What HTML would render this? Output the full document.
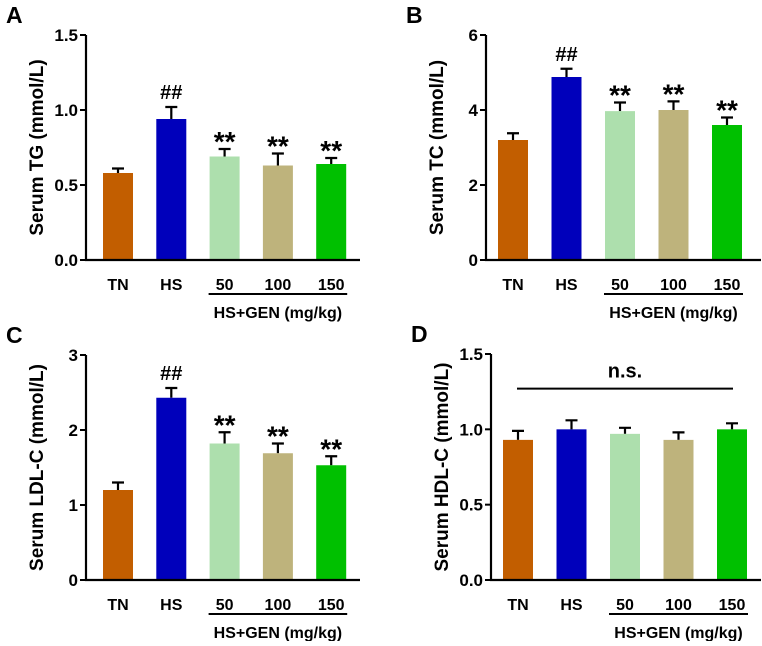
<!DOCTYPE html>
<html><head><meta charset="utf-8"><style>
body{margin:0;background:#fff;width:762px;height:641px;overflow:hidden}
svg text{font-family:"Liberation Sans",Arial,sans-serif;font-weight:bold;fill:#000}
</style></head><body>
<svg id="fig" width="762" height="641" viewBox="0 0 762 641" xmlns="http://www.w3.org/2000/svg"></svg>
<script>
const categories = ["TN","HS","50","100","150"];
const colors = ["#c25e00","#0000bb","#addfad","#beb37c","#00c000"];
const tgValues = [0.58,0.94,0.69,0.63,0.64];
const tgErrors = [0.03,0.08,0.05,0.08,0.04];
const tcValues = [3.2,4.88,3.97,4.0,3.6];
const tcErrors = [0.18,0.22,0.23,0.23,0.2];
const ldlValues = [1.2,2.43,1.82,1.69,1.53];
const ldlErrors = [0.1,0.13,0.15,0.13,0.12];
const hdlValues = [0.93,1.0,0.97,0.93,1.0];
const hdlErrors = [0.06,0.06,0.04,0.05,0.04];
const tgTicks = ["0.0","0.5","1.0","1.5"];
const tcTicks = ["0","2","4","6"];
const ldlTicks = ["0","1","2","3"];
const hdlTicks = ["0.0","0.5","1.0","1.5"];
const marks = ["","##","**","**","**"];

const NS="http://www.w3.org/2000/svg";
const svg=document.getElementById('fig');
function el(tag,attrs,parent){const e=document.createElementNS(NS,tag);for(const k in attrs)e.setAttribute(k,attrs[k]);(parent||svg).appendChild(e);return e;}

const panels=[
 {id:"a",letter:"A",ax:86,x0:118,step:53.3,end:360,top:35,bot:260,max:1.5,ticks:tgTicks,vals:tgValues,errs:tgErrors,title:"Serum TG (mmol/L)",marks:true},
 {id:"b",letter:"B",ax:486,x0:513,step:53.5,end:761,top:35,bot:260,max:6,ticks:tcTicks,vals:tcValues,errs:tcErrors,title:"Serum TC (mmol/L)",marks:true},
 {id:"c",letter:"C",ax:86,x0:118,step:53.3,end:360,top:355,bot:580,max:3,ticks:ldlTicks,vals:ldlValues,errs:ldlErrors,title:"Serum LDL-C (mmol/L)",marks:true},
 {id:"d",letter:"D",ax:491,x0:518,step:53.5,end:761,top:354,bot:580,max:1.5,ticks:hdlTicks,vals:hdlValues,errs:hdlErrors,title:"Serum HDL-C (mmol/L)",marks:false}
];

panels.forEach(p=>{
  const g=el('g',{});
  
  
  const y=v=>p.bot-(v/p.max)*(p.bot-p.top);
  const x=i=>p.x0+i*p.step;
  const L=el('text',{x:p.ax-80,y:p.top-12,'font-size':23},g);L.textContent=p.letter;
  
  p.vals.forEach((v,i)=>{
    const top=y(v+p.errs[i]);
    const eb=el('path',{d:`M${x(i)} ${y(v)}V${top}M${x(i)-6} ${top}H${x(i)+6}`,stroke:'#000','stroke-width':2.2,fill:'none'},g);
    
    const r=el('rect',{x:x(i)-15,y:y(v),width:30,height:p.bot-y(v),fill:colors[i]},g);
    
    if(p.marks&&marks[i]){
      const star=marks[i]=="**";
      const t=el('text',{x:x(i),y:star?top+2:top-8,'font-size':star?28:20,'text-anchor':'middle'},g);
      t.textContent=marks[i];
      
    }
    const c=el('text',{x:x(i),y:p.bot+30,'font-size':16,'text-anchor':'middle'},g);c.textContent=categories[i];
    
  });
  const a=el('path',{d:`M${p.ax} ${p.top}V${p.bot}H${p.end}`,stroke:'#000','stroke-width':2.2,fill:'none'},g);
  
  p.ticks.forEach((t,k)=>{
    const v=k*p.max/(p.ticks.length-1);
    el('line',{x1:p.ax-6,x2:p.ax,y1:y(v),y2:y(v),stroke:'#000','stroke-width':2},g);
    const tt=el('text',{x:p.ax-8,y:y(v)+6,'font-size':17,'text-anchor':'end'},g);tt.textContent=t;
    
  });
  const cy=(p.top+p.bot)/2, tx=p.ax-43;
  const yt=el('text',{x:tx,y:cy,'font-size':19,'text-anchor':'middle',transform:`rotate(-90 ${tx} ${cy})`},g);yt.textContent=p.title;
  
  const ul=el('line',{x1:x(2)-16,x2:x(4)+16,y1:p.bot+34,y2:p.bot+34,stroke:'#000','stroke-width':2},g);
  
  const gl=el('text',{x:(x(2)+x(4))/2,y:p.bot+58,'font-size':16,'text-anchor':'middle'},g);gl.textContent="HS+GEN (mg/kg)";
  
  if(!p.marks){
    const nl=el('line',{x1:x(0)-1,x2:x(4)+1,y1:y(1.27),y2:y(1.27),stroke:'#000','stroke-width':2},g);
    
    const nt=el('text',{x:(x(0)+x(4))/2,y:y(1.27)-11,'font-size':20,'text-anchor':'middle'},g);nt.textContent="n.s.";
    
  }
});
</script>
</body></html>
